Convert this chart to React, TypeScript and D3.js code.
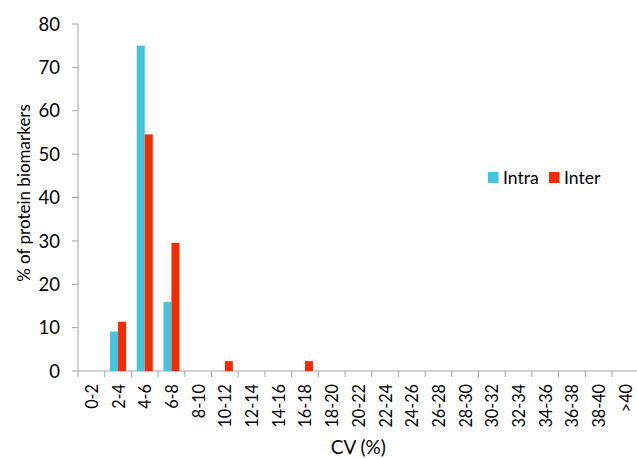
import React from "react";
import * as d3 from "d3";

const categories = ["0-2","2-4","4-6","6-8","8-10","10-12","12-14","14-16","16-18","18-20","20-22","22-24","24-26","26-28","28-30","30-32","32-34","34-36","36-38","38-40",">40"];
const intraValues = [0, 9.09, 75, 15.9, 0, 0, 0, 0, 0, 0, 0, 0, 0, 0, 0, 0, 0, 0, 0, 0, 0];
const interValues = [0, 11.36, 54.55, 29.55, 0, 2.27, 0, 0, 2.27, 0, 0, 0, 0, 0, 0, 0, 0, 0, 0, 0, 0];
const yTicks = [0, 10, 20, 30, 40, 50, 60, 70, 80];
const seriesNames = ["Intra", "Inter"];
const colors = ["#45C4E0", "#F52A00"];

const W = 637, H = 459;
const left = 78, top = 24, bottom = 371, right = 638.7;
const font = "Lato, 'Open Sans', sans-serif";

export default function App() {
  const x = d3.scaleBand<string>().domain(categories).range([left, right]).paddingInner(0).paddingOuter(0);
  const y = d3.scaleLinear().domain([0, 80]).range([bottom, top]);
  const bw = x.bandwidth();
  const barW = bw * 0.3;
  const series = [intraValues, interValues];
  return (
    <svg width={W} height={H} style={{ position: "absolute", left: 0, top: 0, background: "#fff" }} fontFamily={font}>
      {/* y axis */}
      <line x1={left} x2={left} y1={top} y2={bottom} stroke="#A6A6A6" strokeWidth={1} />
      {yTicks.map((t) => (
        <g key={t}>
          <line x1={left - 6} x2={left} y1={y(t)} y2={y(t)} stroke="#A6A6A6" />
          <text x={60} y={y(t)} dy="0.36em" textAnchor="end" fontSize={18.5} fill="#000">{t}</text>
        </g>
      ))}
      {/* x axis */}
      <line x1={left} x2={right} y1={bottom} y2={bottom} stroke="#A6A6A6" />
      {categories.map((c, i) => (
        <g key={c}>
          <line x1={x(c)!} x2={x(c)!} y1={bottom} y2={bottom + 6} stroke="#A6A6A6" />
          <text transform={`translate(${x(c)! + bw / 2},${bottom + 13}) rotate(-90) scale(0.9,1)`} dy="0.36em" textAnchor="end" fontSize={18} fill="#000">{c}</text>
        </g>
      ))}
      {/* bars */}
      {series.map((vals, s) =>
        vals.map((v, i) =>
          v > 0 ? (
            <rect key={`${s}-${i}`} x={x(categories[i])! + bw / 2 - barW + s * barW} y={y(v)} width={barW} height={y(0) - y(v)} fill={colors[s]} />
          ) : null
        )
      )}
      {/* titles */}
      <text transform={`translate(30,193) rotate(-90)`} textAnchor="middle" fontSize={17} fill="#000">% of protein biomarkers</text>
      <text x={(left + right) / 2} y={454} textAnchor="middle" fontSize={19} fill="#000">CV (%)</text>
      {/* legend */}
      {seriesNames.map((n, i) => {
        const lx = i === 0 ? 488 : 549;
        return (
          <g key={n}>
            <rect x={lx} y={172} width={10.5} height={11} fill={colors[i]} />
            <text x={lx + 15} y={177.5} dy="0.36em" fontSize={17.5} fill="#000">{n}</text>
          </g>
        );
      })}
    </svg>
  );
}
